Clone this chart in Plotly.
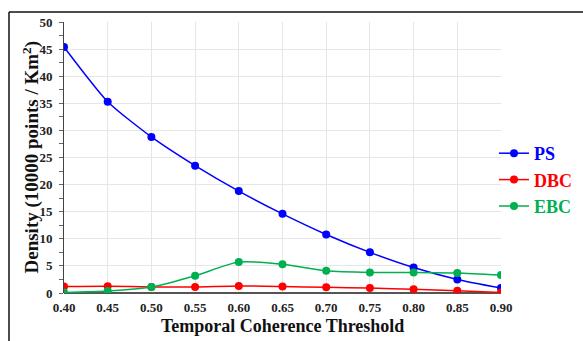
import plotly.graph_objects as go

thresholds = [0.40, 0.45, 0.50, 0.55, 0.60, 0.65, 0.70, 0.75, 0.80, 0.85, 0.90]
ps = [45.4, 35.3, 28.8, 23.5, 18.8, 14.6, 10.8, 7.5, 4.7, 2.5, 0.9]
dbc = [1.2, 1.25, 1.1, 1.1, 1.3, 1.2, 1.05, 0.9, 0.7, 0.4, 0.1]
ebc = [0.1, 0.35, 1.1, 3.2, 5.7, 5.3, 4.1, 3.8, 3.8, 3.7, 3.3]
x_ticks = ["0.40", "0.45", "0.50", "0.55", "0.60", "0.65", "0.70", "0.75", "0.80", "0.85", "0.90"]
y_vals = [0, 5, 10, 15, 20, 25, 30, 35, 40, 45, 50]

series = [("PS", ps, "#0000ff"), ("DBC", dbc, "#ff0000"), ("EBC", ebc, "#00b050")]

font_family = "Liberation Serif, Times New Roman, serif"

fig = go.Figure()
for name, vals, color in series:
    fig.add_trace(go.Scatter(
        x=thresholds, y=vals, mode="lines+markers",
        name=f"<span style='color:{color}'><b>{name}</b></span>",
        line=dict(color=color, width=1.5, shape="spline", smoothing=0.6),
        marker=dict(color=color, size=8),
    ))

L, R, T, B = 64, 82, 22, 48
PW, PH = 583 - L - R, 341 - T - B

fig.update_layout(
    width=583, height=341,
    margin=dict(l=L, r=R, t=T, b=B, autoexpand=False),
    plot_bgcolor="white", paper_bgcolor="white",
    font=dict(family=font_family, color="#222222"),
    showlegend=True,
    legend=dict(x=(494 - L) / PW, y=(293 - 180) / PH, xanchor="left", yanchor="middle",
                font=dict(size=18, family=font_family),
                itemwidth=30, tracegroupgap=0, bgcolor="rgba(0,0,0,0)"),
    xaxis=dict(
        range=[0.40, 0.90], tickvals=thresholds, ticktext=[f"<b>{t}</b>" for t in x_ticks],
        tickfont=dict(size=13, family=font_family, color="#222222"),
        showgrid=True, gridcolor="#e6e6e6", gridwidth=1,
        showline=False, zeroline=False, ticks="outside", ticklen=2, tickcolor="rgba(0,0,0,0)",
        automargin=False,
    ),
    yaxis=dict(
        range=[0, 50], tickvals=y_vals, ticktext=[f"<b>{v}</b>" for v in y_vals],
        tickfont=dict(size=13, family=font_family, color="#222222"),
        ticklabelstandoff=4,
        showgrid=True, gridcolor="#e6e6e6", gridwidth=1,
        showline=True, linecolor="#444444", linewidth=1,
        zeroline=True, zerolinecolor="#555555", zerolinewidth=1.5,
        ticks="outside", ticklen=4, tickcolor="#666666",
        minor=dict(dtick=2.5, ticks="outside", ticklen=4, tickcolor="#666666", showgrid=False),
        automargin=False,
    ),
)

fig.add_annotation(text="<b>Temporal Coherence Threshold</b>", xref="paper", yref="paper",
                   x=0.5, y=-(326 - 293) / PH, xanchor="center", yanchor="middle",
                   showarrow=False, font=dict(size=18, family=font_family, color="#111111"))
fig.add_annotation(text="<b>Density (10000 points / Km<sup>2</sup>)</b>", xref="paper", yref="paper",
                   x=-(64 - 31) / PW, y=0.5, xanchor="center", yanchor="middle", textangle=-90,
                   showarrow=False, font=dict(size=19, family=font_family, color="#111111"))

# outer frame (cropped figure border): left and top
fig.add_shape(type="line", xref="paper", yref="paper",
              x0=(9 - L) / PW, x1=(9 - L) / PW, y0=(293 - 12) / PH, y1=-B / PH,
              line=dict(color="#111111", width=1.5))
fig.add_shape(type="line", xref="paper", yref="paper",
              x0=(9 - L) / PW, x1=(583 - L) / PW, y0=(293 - 12) / PH, y1=(293 - 12) / PH,
              line=dict(color="#111111", width=1.5))

fig.write_html("out.html", config={"displayModeBar": False},
               post_script="document.body.style.margin='0';document.body.style.overflow='hidden';")
